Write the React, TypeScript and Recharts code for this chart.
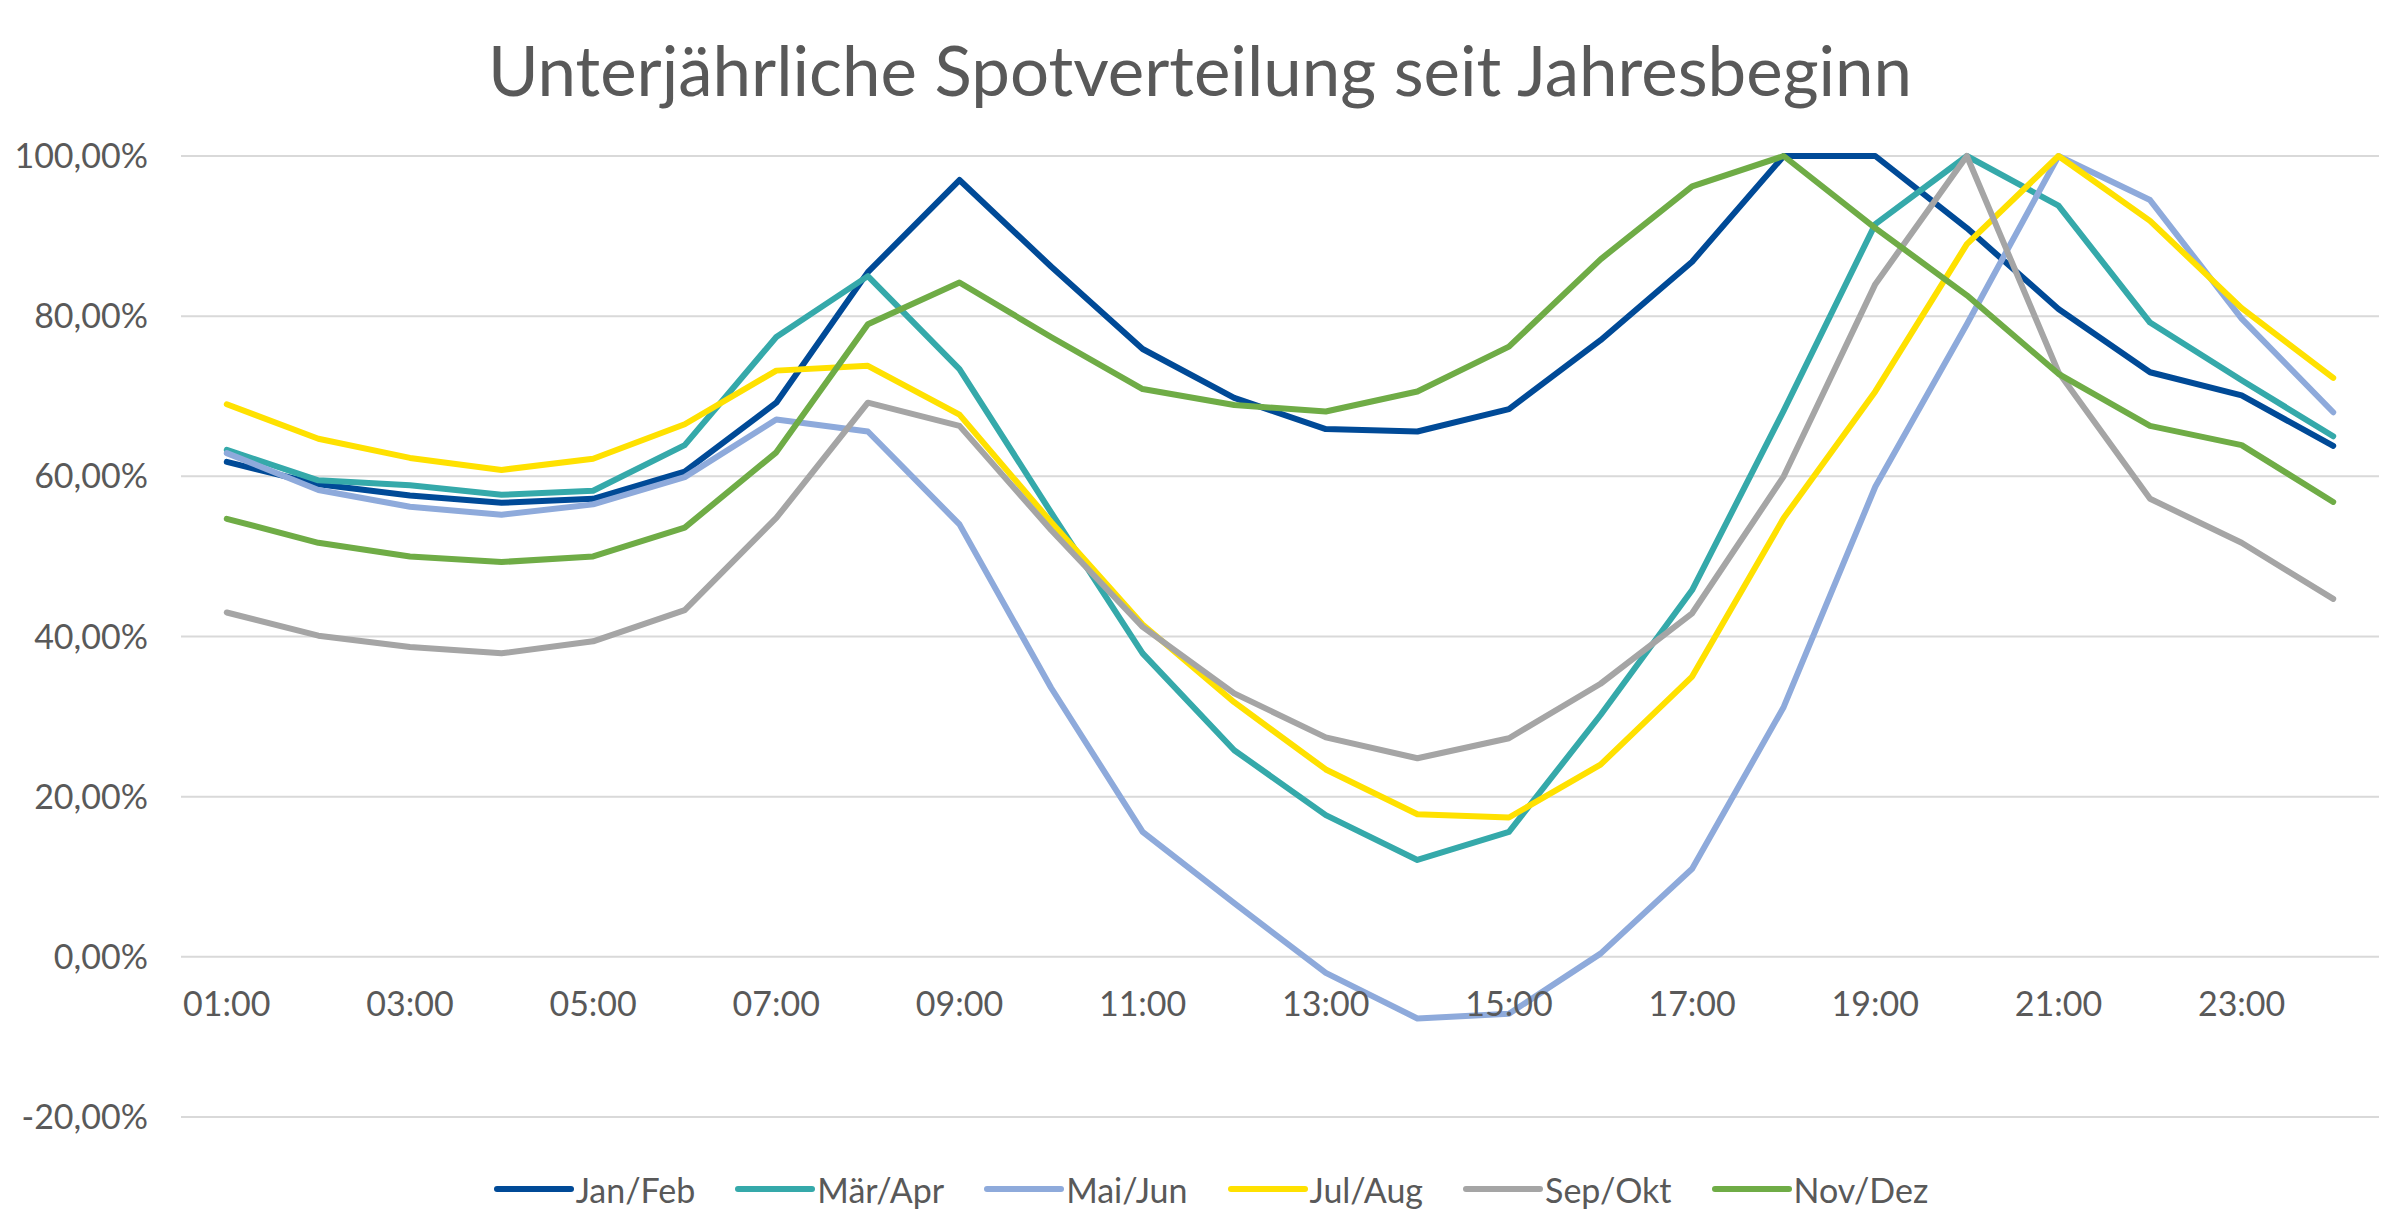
import { LineChart, Line, XAxis, YAxis, CartesianGrid, Legend } from "recharts";

// hourly buckets
const hours = [
  "01:00", "02:00", "03:00", "04:00", "05:00", "06:00", "07:00", "08:00",
  "09:00", "10:00", "11:00", "12:00", "13:00", "14:00", "15:00", "16:00",
  "17:00", "18:00", "19:00", "20:00", "21:00", "22:00", "23:00", "24:00",
];

// values in percent
const janFeb = [61.8, 59.0, 57.6, 56.7, 57.2, 60.6, 69.2, 85.5, 97.0, 86.2, 75.9, 69.8, 65.9, 65.6, 68.4, 77.0, 86.8, 100, 100, 91.0, 80.9, 73.0, 70.1, 63.8];
const maerApr = [63.3, 59.5, 58.9, 57.7, 58.2, 63.9, 77.4, 85.0, 73.4, 55.5, 37.9, 25.8, 17.7, 12.1, 15.6, 30.2, 45.8, 68.2, 91.5, 100, 93.8, 79.2, 72.0, 65.0];
const maiJun = [62.9, 58.3, 56.2, 55.2, 56.5, 59.9, 67.1, 65.6, 54.0, 33.6, 15.6, 6.7, -2.0, -7.7, -7.1, 0.4, 11.0, 31.2, 58.7, 79.0, 100, 94.5, 79.7, 68.0];
const julAug = [69.0, 64.7, 62.3, 60.8, 62.2, 66.5, 73.2, 73.8, 67.7, 54.3, 41.5, 31.8, 23.4, 17.8, 17.4, 24.0, 35.0, 54.8, 70.6, 89.0, 100, 91.9, 81.0, 72.3];
const sepOkt = [43.0, 40.1, 38.7, 37.9, 39.4, 43.3, 54.8, 69.2, 66.3, 53.3, 41.2, 32.9, 27.4, 24.8, 27.3, 34.1, 42.9, 60.0, 84.0, 100, 73.0, 57.2, 51.7, 44.7];
const novDez = [54.7, 51.7, 50.0, 49.3, 50.0, 53.6, 63.0, 79.0, 84.2, 77.4, 70.9, 68.9, 68.1, 70.6, 76.2, 87.1, 96.2, 100, 91.0, 82.6, 72.8, 66.3, 63.9, 56.8];

const seriesKeys = ["janFeb", "maerApr", "maiJun", "julAug", "sepOkt", "novDez"];
const seriesNames = ["Jan/Feb", "Mär/Apr", "Mai/Jun", "Jul/Aug", "Sep/Okt", "Nov/Dez"];
const seriesColors = ["#004A97", "#35A9AA", "#8EAADB", "#FFE100", "#A5A5A5", "#6FAC46"];
const seriesValues = [janFeb, maerApr, maiJun, julAug, sepOkt, novDez];

const yTicks = [-20, 0, 20, 40, 60, 80, 100];

const title = "Unterjährliche Spotverteilung seit Jahresbeginn";

const FONT = "Lato, 'Open Sans', sans-serif";
const TEXT = "#595959";

const W = 2400;
const H = 1223;
const PLOT_TOP = 156;
const PLOT_LEFT = 181;
const PLOT_RIGHT = 2379;
const PLOT_BOTTOM = 1117;
const LEGEND_H = 44;
const LEGEND_BOTTOM = 12;
const X_AXIS_H = H - PLOT_BOTTOM - LEGEND_H - LEGEND_BOTTOM;
const PLOT_H = PLOT_BOTTOM - PLOT_TOP;
// excel puts points in the middle of each category slot
const HALF_SLOT = (PLOT_RIGHT - PLOT_LEFT) / hours.length / 2;
// category labels sit under the 0% line (axis crosses at zero)
const ZERO_UP = (PLOT_H * (0 - yTicks[0])) / (yTicks[yTicks.length - 1] - yTicks[0]);
const LABEL_GAP = 47;

const rows = hours.map((hour, i) => {
  const r: Record<string, any> = { hour };
  seriesKeys.forEach((k, s) => (r[k] = seriesValues[s][i]));
  return r;
});

const pct = (v: number) => `${v.toFixed(2).replace(".", ",")}%`;

function HourTick({ x, y, payload }: any) {
  return (
    <text
      x={x}
      y={y - ZERO_UP + LABEL_GAP}
      dy="0.355em"
      textAnchor="middle"
      fill={TEXT}
      fontSize={34}
      fontFamily={FONT}
    >
      {payload.value}
    </text>
  );
}

function LegendRow() {
  return (
    <div
      style={{
        display: "flex",
        justifyContent: "center",
        alignItems: "center",
        height: LEGEND_H,
        paddingLeft: 22,
        fontFamily: FONT,
        fontSize: 34,
        color: TEXT,
      }}
    >
      {seriesNames.map((name, i) => (
        <div key={name} style={{ display: "flex", alignItems: "center", marginRight: i < seriesNames.length - 1 ? 40 : 0 }}>
          <svg width={80} height={12} style={{ marginRight: 2 }}>
            <line x1={3} y1={6} x2={77} y2={6} stroke={seriesColors[i]} strokeWidth={6} strokeLinecap="round" />
          </svg>
          <span>{name}</span>
        </div>
      ))}
    </div>
  );
}

export default function App() {
  return (
    <div style={{ position: "absolute", left: 0, top: 0, width: W, height: H, background: "#fff" }}>
      <div
        style={{
          position: "absolute",
          left: 0,
          top: 36,
          width: W,
          textAlign: "center",
          fontFamily: FONT,
          fontSize: 69,
          lineHeight: "68px",
          color: TEXT,
        }}
      >
        {title}
      </div>
      <LineChart
        width={W}
        height={H}
        data={rows}
        margin={{ top: PLOT_TOP, right: W - PLOT_RIGHT, left: 0, bottom: LEGEND_BOTTOM }}
      >
        <CartesianGrid vertical={false} stroke="#D9D9D9" strokeWidth={2} />
        <XAxis
          dataKey="hour"
          interval={1}
          height={X_AXIS_H}
          padding={{ left: HALF_SLOT, right: HALF_SLOT }}
          axisLine={false}
          tickLine={false}
          tickSize={0}
          tickMargin={0}
          tick={<HourTick />}
        />
        <YAxis
          domain={[yTicks[0], yTicks[yTicks.length - 1]]}
          ticks={yTicks}
          width={PLOT_LEFT}
          axisLine={false}
          tickLine={false}
          tickSize={0}
          tickMargin={33}
          tickFormatter={pct}
          tick={{ fill: TEXT, fontSize: 34, fontFamily: FONT }}
        />
        <Legend verticalAlign="bottom" wrapperStyle={{ left: 0, width: W }} content={<LegendRow />} />
        {seriesKeys.map((k, i) => (
          <Line
            key={k}
            dataKey={k}
            name={seriesNames[i]}
            type="linear"
            stroke={seriesColors[i]}
            strokeWidth={6}
            strokeLinejoin="round"
            strokeLinecap="round"
            dot={false}
            activeDot={false}
            isAnimationActive={false}
          />
        ))}
      </LineChart>
    </div>
  );
}
